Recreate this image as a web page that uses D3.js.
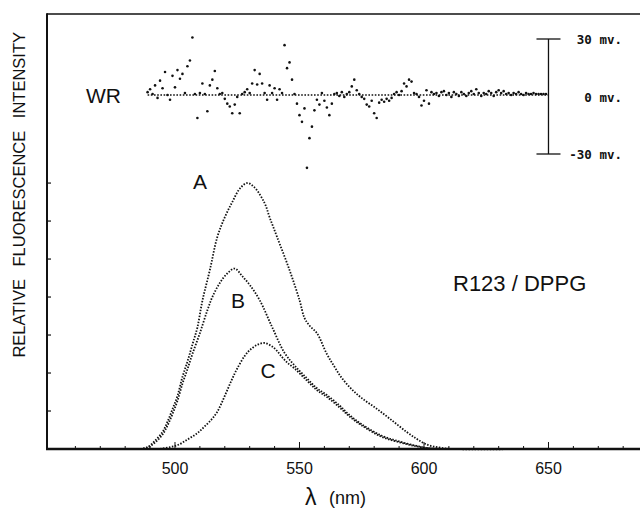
<!DOCTYPE html>
<html>
<head>
<meta charset="utf-8">
<script src="https://cdn.jsdelivr.net/npm/d3@7"></script>
<style>
  body { margin: 0; background: #fff; }
  text { font-family: "Liberation Sans", Arial, sans-serif; fill: #111; }
  .mv { font-family: "DejaVu Sans Mono", monospace; font-size: 12.5px; font-weight: bold; }
</style>
</head>
<body>
<div id="chart"></div>
<script>
/*------ data ------*/

// curve A (wavelength nm, relative intensity)
var aNm  = [486, 489, 492, 495, 497, 499, 501, 503, 505, 507, 509, 511, 514, 517, 520, 523, 526, 529, 532, 536, 538, 541, 546, 550, 552, 554, 557, 561, 564, 567, 571, 575, 581, 587, 593, 597, 601, 606, 612, 640];
var aVal = [0, 0.05, 0.22, 0.45, 0.72, 1.05, 1.4, 1.9, 2.3, 2.75, 3.2, 3.9, 4.71, 5.58, 6.1, 6.5, 6.85, 7.0, 6.88, 6.47, 6.1, 5.58, 4.71, 3.92, 3.45, 3.25, 3.05, 2.5, 2.17, 1.87, 1.57, 1.34, 1.06, 0.76, 0.45, 0.27, 0.12, 0.04, 0, 0];

// curve B
var bNm  = [486, 489, 492, 495, 497, 499, 501, 503, 505, 507, 510, 513, 515, 518, 521, 524, 527, 530, 534, 539, 544, 548, 553, 557, 561, 566, 570, 575, 583, 590, 597, 602, 610];
var bVal = [0, 0.04, 0.17, 0.38, 0.62, 0.92, 1.27, 1.72, 2.1, 2.5, 3.05, 3.65, 4.0, 4.37, 4.62, 4.75, 4.55, 4.32, 3.92, 3.21, 2.53, 2.2, 1.86, 1.6, 1.42, 1.15, 0.9, 0.65, 0.35, 0.2, 0.08, 0.02, 0];

// curve C
var cNm  = [494, 498, 501, 505, 509, 512, 515, 517, 519, 521, 523, 525, 528, 530, 533, 536, 539, 541, 543, 545, 548, 553, 557, 561, 566, 570, 575, 583, 590, 597, 602, 610];
var cVal = [0, 0.05, 0.1, 0.25, 0.42, 0.6, 0.8, 0.98, 1.25, 1.55, 1.85, 2.12, 2.45, 2.6, 2.74, 2.79, 2.7, 2.58, 2.42, 2.28, 2.12, 1.8, 1.55, 1.37, 1.1, 0.86, 0.62, 0.32, 0.18, 0.07, 0.02, 0];

// weighted residuals (mV), one per nm starting at wrStart
var wrStart = 489;
var wrVal = [
  1.5, 3.0, 0.5, 5.0, -1.5, 7.5, 3.5, 12.0, 0.0, -2.5,
  10.0, 4.0, 13.0, 8.5, 11.0, 1.0, 15.0, 18.0, 30.0, 0.5,
  -12.0, 1.0, 6.0, 0.5, -8.5, 5.0, 8.0, 12.5, 3.5, 0.5,
  1.0, -2.0, -4.5, -6.0, -9.5, -5.0, -1.0, -9.5, 0.5, 1.5,
  3.0, 1.0, 6.0, 13.0, 5.5, 11.0, 6.0, 1.0, -2.5, 5.0,
  1.0, 3.5, -2.5, 3.0, 1.0, 26.0, 14.0, 17.0, 8.0, 0.5,
  -4.5, -10.5, -14.0, -7.0, -38.0, -22.5, -16.5, -8.0, -2.5, -5.0,
  1.0, -3.0, -6.5, -10.5, -4.5, 0.5, 1.0, -0.5, 1.5, -1.0,
  0.5, 1.5, 4.5, 8.0, 2.5, 0.5, -1.0, -2.0, -5.0, -6.0,
  -3.0, -9.5, -12.0, -4.0, -2.5, -3.5, -2.0, -3.0, -1.5, 0.5,
  1.5, 0.0, 2.0, 6.0, 4.5, 8.0, 7.0, 1.0, 0.5, -1.0,
  -5.5, -3.0, 2.5, -4.5, 1.5, 0.5, 1.0, -0.5, 1.5, 2.0,
  0.0, 1.0, -1.0, 1.5, 0.5, -0.5, 1.5, 0.5, -0.5, 1.0,
  2.0, 0.5, 3.0, 1.0, -0.5, 1.0, 0.5, 2.0, 1.0, -0.5,
  1.5, 2.5, 1.0, 2.0, 0.5, 1.0, 0.0, 1.0, 0.5, 1.5,
  0.5, 0.0, 1.0, 0.5, 0.5, 1.0, 0.5, 0.5, 0.5, 0.5,
  0.5
];

var xTicks = [500, 550, 600, 650];
var xMinorTicks = d3.range(460, 710, 10);
var yTicks = [1, 2, 3, 4, 5, 6, 7];
var mvTicks = [30, 0, -30];
var mvLabels = ["30 mv.", "0 mv.", "-30 mv."];
var barNm = 650;

/*------ svg and scales ------*/

var width = 640, height = 511;
var svg = d3.select("#chart").append("svg")
    .attr("width", width)
    .attr("height", height);

var x = d3.scaleLinear().domain([448.6, 705]).range([47, 47 + 256.4 * 2.49]);
var y = d3.scaleLinear().domain([0, 11.45]).range([449, 14]);
var yWR = d3.scaleLinear().domain([-30, 30]).range([154, 39]);

/*------ frame and ticks ------*/

svg.append("line")   // top border
    .attr("x1", x.range()[0]).attr("x2", width)
    .attr("y1", y(11.45)).attr("y2", y(11.45))
    .attr("stroke", "#111").attr("stroke-width", 1.7);

svg.append("line")   // left axis
    .attr("x1", x.range()[0]).attr("x2", x.range()[0])
    .attr("y1", y(11.45) - 0.8).attr("y2", y(0) + 1)
    .attr("stroke", "#111").attr("stroke-width", 2);

svg.selectAll(".ytick")
    .data(yTicks)
    .enter().append("line")
    .attr("class", "ytick")
    .attr("x1", x.range()[0]).attr("x2", x.range()[0] + 4)
    .attr("y1", function(d) { return y(d); })
    .attr("y2", function(d) { return y(d); })
    .attr("stroke", "#111").attr("stroke-width", 1.2);

svg.selectAll(".xminor")
    .data(xMinorTicks)
    .enter().append("line")
    .attr("class", "xminor")
    .attr("x1", function(d) { return x(d); })
    .attr("x2", function(d) { return x(d); })
    .attr("y1", y(0)).attr("y2", function(d) { return y(0) - (d % 50 === 0 ? 7 : 3); })
    .attr("stroke", "#111").attr("stroke-width", 1);

svg.append("line")   // bottom axis
    .attr("x1", x.range()[0] - 1).attr("x2", width)
    .attr("y1", y(0)).attr("y2", y(0))
    .attr("stroke", "#111").attr("stroke-width", 2.6);

svg.selectAll(".xlabel")
    .data(xTicks)
    .enter().append("text")
    .attr("class", "xlabel")
    .attr("x", function(d) { return x(d); })
    .attr("y", 474)
    .attr("text-anchor", "middle")
    .style("font-size", "16px")
    .text(function(d) { return d; });

// axis titles
svg.append("text")
    .attr("x", 305).attr("y", 505)
    .style("font-size", "23px")
    .text("λ");
svg.append("text")
    .attr("x", 329).attr("y", 504)
    .style("font-size", "18px")
    .text("(nm)");

svg.append("text")
    .attr("transform", "translate(25,32) rotate(-90)")
    .attr("text-anchor", "end")
    .style("font-size", "16.5px")
    .style("word-spacing", "8px")
    .text("RELATIVE FLUORESCENCE INTENSITY");

/*------ spectra A, B, C as dotted traces ------*/

var line = d3.line()
    .x(function(d) { return x(d[0]); })
    .y(function(d) { return y(d[1]); })
    .curve(d3.curveCatmullRom.alpha(0.5));

var curves = [
  { nm: aNm, val: aVal },
  { nm: bNm, val: bVal },
  { nm: cNm, val: cVal }
];

svg.selectAll(".spec")
    .data(curves)
    .enter().append("path")
    .attr("class", "spec")
    .attr("d", function(c) { return line(d3.zip(c.nm, c.val)); })
    .attr("fill", "none")
    .attr("stroke", "#111")
    .attr("stroke-width", 1.8)
    .attr("stroke-dasharray", "1.5,1.5");

var curveLabels = [
  { t: "A", x: 200, y: 189 },
  { t: "B", x: 238, y: 308 },
  { t: "C", x: 268, y: 378 }
];
svg.selectAll(".clabel")
    .data(curveLabels)
    .enter().append("text")
    .attr("class", "clabel")
    .attr("x", function(d) { return d.x; })
    .attr("y", function(d) { return d.y; })
    .attr("text-anchor", "middle")
    .style("font-size", "21px")
    .text(function(d) { return d.t; });

svg.append("text")
    .attr("x", 453).attr("y", 291)
    .style("font-size", "22px")
    .text("R123 / DPPG");

/*------ weighted residuals ------*/

svg.append("text")
    .attr("x", 86).attr("y", 103)
    .style("font-size", "21px")
    .text("WR");

var wrData = wrVal.map(function(v, i) { return [wrStart + i, v]; });

svg.append("line")   // zero reference
    .attr("x1", x(wrStart)).attr("x2", x(barNm))
    .attr("y1", yWR(0) - 1.5).attr("y2", yWR(0) - 1.5)
    .attr("stroke", "#111").attr("stroke-width", 1.5)
    .attr("stroke-dasharray", "1.6,1.6");

svg.selectAll(".wr")
    .data(wrData)
    .enter().append("circle")
    .attr("class", "wr")
    .attr("cx", function(d) { return x(d[0]); })
    .attr("cy", function(d) { return yWR(d[1]) - 1.5; })
    .attr("r", 1.3)
    .attr("fill", "#111");

// scale bar
svg.append("line")
    .attr("x1", x(barNm)).attr("x2", x(barNm))
    .attr("y1", yWR(30)).attr("y2", yWR(-30))
    .attr("stroke", "#111").attr("stroke-width", 1.3);

svg.selectAll(".mvtick")
    .data([30, -30])
    .enter().append("line")
    .attr("class", "mvtick")
    .attr("x1", x(barNm) - 12).attr("x2", x(barNm) + 12)
    .attr("y1", function(d) { return yWR(d); })
    .attr("y2", function(d) { return yWR(d); })
    .attr("stroke", "#111").attr("stroke-width", 1.3);

svg.selectAll(".mvlabel")
    .data(mvTicks)
    .enter().append("text")
    .attr("class", "mv")
    .attr("x", 622)
    .attr("y", function(d) { return yWR(d) + 5; })
    .attr("text-anchor", "end")
    .text(function(d, i) { return mvLabels[i]; });
</script>
</body>
</html>
